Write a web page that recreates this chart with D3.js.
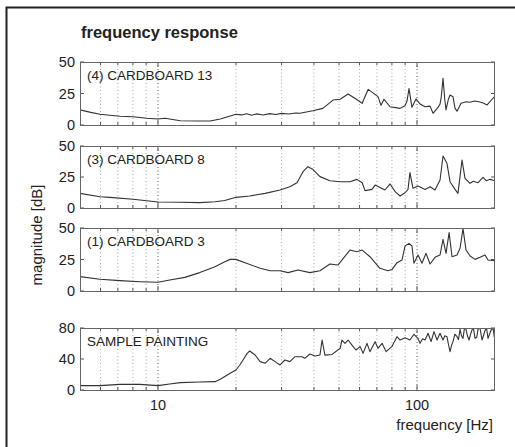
<!DOCTYPE html>
<html><head><meta charset="utf-8">
<script src="https://cdn.jsdelivr.net/npm/d3@7/dist/d3.min.js"></script>
<style>body{margin:0;background:#fff}svg{display:block}text{font-family:"Liberation Sans",Arial,Helvetica,sans-serif;fill:#222}</style>
</head><body>
<svg id="c" width="515" height="447"></svg>
<script>
// ---- data (frequency in Hz, magnitude in dB) ----
const panelLabels = ["(4) CARDBOARD 13", "(3) CARDBOARD 8", "(1) CARDBOARD 3", "SAMPLE PAINTING"];
const yTicks = [[0, 25, 50], [0, 25, 50], [0, 25, 50], [0, 40, 80]];
const yMax = [50, 50, 50, 80];
const xTickLabels = [10, 100];
const gridFreqs = [6, 7, 8, 9, 10, 20, 30, 40, 50, 60, 70, 80, 90, 100];

const cb13F = [5, 5.5, 5.97, 7.13, 8.01, 9.07, 10, 10.64, 12.2, 14.5, 15.9, 17.4, 20, 21, 22, 23, 24, 25.5, 27, 28.5, 30, 32, 34, 35.3, 39.6, 43.3, 47.4, 50.5, 54.2, 57.7, 61.4, 64.8, 70.7, 72.6, 74.6, 78.7, 86, 89.9, 91.5, 93.1, 95.6, 99.1, 102.7, 107.4, 112.3, 115.3, 120.5, 122.7, 124, 126, 128, 129.4, 132, 134.1, 137.7, 140.2, 142.7, 147.9, 155, 160, 167, 175, 180, 186.4, 200];
const cb13D = [12, 10, 8.5, 7, 6.6, 5.3, 4.8, 5.3, 3.4, 3.2, 3.2, 4.8, 8.5, 8, 9, 7.8, 8.8, 8, 9, 8.3, 9.2, 8.7, 9.5, 9.3, 11.3, 13.2, 19.8, 20.4, 24.6, 21, 17.2, 28.3, 22.5, 15.6, 20.4, 14.5, 13.2, 15.3, 19, 29, 14, 20.6, 16.7, 14.5, 15, 9.3, 14, 16.7, 22, 37, 20, 12, 20, 23.8, 22.5, 13.2, 11, 17.2, 18.5, 18, 19, 18.2, 17.5, 15.9, 23];

const cb8F = [5, 5.97, 6.53, 8.01, 10, 12.2, 14.5, 16.6, 18.1, 20, 22.6, 25.9, 29.6, 32.3, 34.4, 36.3, 37.9, 39.6, 42.2, 46.1, 50.5, 55.1, 58.6, 61.4, 63, 67, 68.9, 75.2, 78.7, 82.3, 86, 89.9, 92.3, 93.9, 96.5, 100.9, 107.4, 112.3, 117.3, 122.7, 126, 130.5, 134.1, 140.2, 143.9, 149.2, 153.2, 160.2, 165, 172, 179.8, 185, 191.4, 200];
const cb8D = [11.8, 9.1, 8.6, 7, 4.8, 4.6, 4.3, 5.1, 6, 8.6, 9.7, 11.8, 14.5, 17.2, 20.4, 29.3, 33.3, 31.2, 25.3, 22, 21.2, 21.2, 23.1, 20.4, 14, 15, 18.5, 14.5, 19.4, 13.2, 9.7, 12.3, 15, 28.5, 15.9, 17.7, 15, 17.2, 14.5, 22.6, 41.9, 36, 21.2, 15, 11.8, 38.7, 23.9, 19.9, 21.5, 20.4, 24.7, 22, 23.1, 22];

const cb3F = [5, 5.97, 7.13, 8.52, 10, 11.1, 12.7, 14.5, 16.6, 18.1, 19, 20, 21.7, 24.8, 27.1, 29.6, 31.8, 34.7, 38.6, 42.2, 46.1, 49.5, 55.1, 58.6, 61.4, 65.8, 71.9, 77.2, 80, 83.7, 87.5, 89.9, 93.1, 95.6, 97.3, 100.9, 104.5, 108.3, 112.3, 117.3, 122.7, 126, 129.4, 133, 136.5, 142.7, 146.6, 150.5, 154.6, 160.2, 167.5, 175.1, 183, 188, 200];
const cb3D = [11.4, 9.3, 8.2, 7.4, 6.9, 8.7, 10.8, 14.6, 19.3, 23.3, 25.1, 25.1, 22.5, 18, 16.1, 16.1, 14.6, 16.7, 14.6, 16.1, 21.4, 20.6, 32.5, 31.2, 32.5, 27.2, 18, 16.1, 17, 22.5, 24.6, 35.7, 37.8, 35.7, 22, 28.6, 22, 29.9, 21.4, 26.7, 28.6, 41, 29.9, 46.3, 27.2, 28.6, 33.9, 49.5, 32.5, 27.8, 25.1, 26.7, 28.6, 24.6, 24];

const spF = [5, 5.97, 7.13, 8.52, 10, 11.1, 12.2, 14.5, 16.6, 17.4, 19, 20, 20.7, 21.3, 22.1, 22.6, 23.7, 24.8, 25.9, 27.1, 28.3, 29.6, 30.9, 32.3, 33.8, 36, 36.9, 38.6, 40.4, 42.2, 43, 44.1, 47, 50.5, 51.3, 52.7, 54.2, 56.1, 58.1, 60.3, 61.9, 64.1, 65.8, 68.9, 70.7, 73.3, 75.9, 80, 83.7, 86, 89.9, 93.9, 97.3, 100.9, 102.7, 105, 107.4, 110.3, 113.3, 116.3, 119.5, 122.7, 126, 128, 130.5, 132, 134.1, 136, 137.7, 140, 142.7, 144.5, 146.6, 148.5, 150.5, 152.5, 154.6, 156.5, 158.8, 161, 163, 165, 167.5, 170, 172, 175, 178.2, 180.5, 183, 185.5, 188, 190.5, 193.1, 196.5, 200];
const spD = [5.6, 5.6, 7.3, 7.3, 5.6, 7.7, 9.5, 10.3, 10.8, 13.8, 21.5, 25.8, 32.3, 38.7, 47.3, 50.3, 45.2, 36.6, 34.4, 40.9, 36.6, 32.3, 38.7, 36.6, 43, 43, 40.9, 46.5, 43.9, 45.2, 64.5, 45, 45.9, 53.8, 64.5, 60.2, 64.5, 58, 51.6, 56, 47.3, 60.2, 49.5, 62.4, 53.8, 60.2, 49.5, 56, 68.8, 64.5, 67.5, 64.5, 71.9, 66.6, 60.2, 66, 64.5, 73.2, 62.4, 75.3, 64.5, 73.2, 64.5, 70, 68.8, 60, 49.5, 58, 62.4, 72, 68.8, 65, 78.3, 70, 66.6, 80, 78.3, 70, 64.5, 72, 77.4, 80, 66.6, 68, 78.3, 80, 64.5, 70, 76.6, 80, 66.6, 72, 77.4, 80, 62.4];

const series = [[cb13F, cb13D], [cb8F, cb8D], [cb3F, cb3D], [spF, spD]];

// ---- layout ----
const svg = d3.select("#c");
const L = 80, R = 495;
const tops = [62, 146, 228, 328], bots = [125, 208, 291, 390];
const x = d3.scaleLog().domain([5, 200]).range([L, R]);

// outer frame
svg.append("path").attr("d", "M6.5,460 V7.5 H520").attr("fill", "none").attr("stroke", "#222").attr("stroke-width", 2);

svg.append("text").attr("x", 81).attr("y", 38).attr("font-size", 16.5).attr("font-weight", "bold").text("frequency response");

series.forEach((s, i) => {
  const y = d3.scaleLinear().domain([0, yMax[i]]).range([bots[i], tops[i]]);
  const g = svg.append("g");
  // grid
  gridFreqs.forEach(f => {
    const major = (f === 10 || f === 100);
    g.append("line").attr("x1", x(f)).attr("x2", x(f)).attr("y1", tops[i]).attr("y2", bots[i])
      .attr("stroke", major ? "#555" : "#aaa").attr("stroke-width", 1).attr("stroke-dasharray", "1,2.5");
    const tl = major ? 5 : 3;
    g.append("line").attr("x1", x(f)).attr("x2", x(f)).attr("y1", bots[i]).attr("y2", bots[i] - tl).attr("stroke", "#555");
    g.append("line").attr("x1", x(f)).attr("x2", x(f)).attr("y1", tops[i]).attr("y2", tops[i] + tl).attr("stroke", "#555");
  });
  // y ticks
  yTicks[i].forEach(t => {
    g.append("line").attr("x1", L).attr("x2", L + 4).attr("y1", y(t)).attr("y2", y(t)).attr("stroke", "#555");
    g.append("line").attr("x1", R).attr("x2", R - 4).attr("y1", y(t)).attr("y2", y(t)).attr("stroke", "#555");
    g.append("text").attr("x", L - 5).attr("y", y(t)).attr("dy", "0.36em").attr("text-anchor", "end").attr("font-size", 14.5).text(t);
  });
  // clip
  svg.append("clipPath").attr("id", "cp" + i).append("rect").attr("x", L).attr("y", tops[i]).attr("width", R - L).attr("height", bots[i] - tops[i]);
  const line = d3.line().x(d => x(d[0])).y(d => y(d[1]));
  g.append("path").attr("d", line(s[0].map((f, k) => [f, s[1][k]]))).attr("clip-path", "url(#cp" + i + ")")
    .attr("fill", "none").attr("stroke", "#333").attr("stroke-width", 1.1).attr("stroke-linejoin", "round");
  // box
  g.append("rect").attr("x", L + 0.5).attr("y", tops[i] + 0.5).attr("width", R - L - 1).attr("height", bots[i] - tops[i]).attr("fill", "none").attr("stroke", "#666");
  g.append("text").attr("x", 87).attr("y", tops[i] + 17.5).attr("font-size", 13.5).text(panelLabels[i]);
});

xTickLabels.forEach(t => {
  svg.append("text").attr("x", x(t)).attr("y", 410).attr("text-anchor", "middle").attr("font-size", 14.5).text(t);
});
svg.append("text").attr("x", 493).attr("y", 430).attr("text-anchor", "end").attr("font-size", 15).text("frequency [Hz]");
svg.append("text").attr("transform", "translate(42,235) rotate(-90)").attr("text-anchor", "middle").attr("font-size", 15).text("magnitude [dB]");
</script>
</body></html>
